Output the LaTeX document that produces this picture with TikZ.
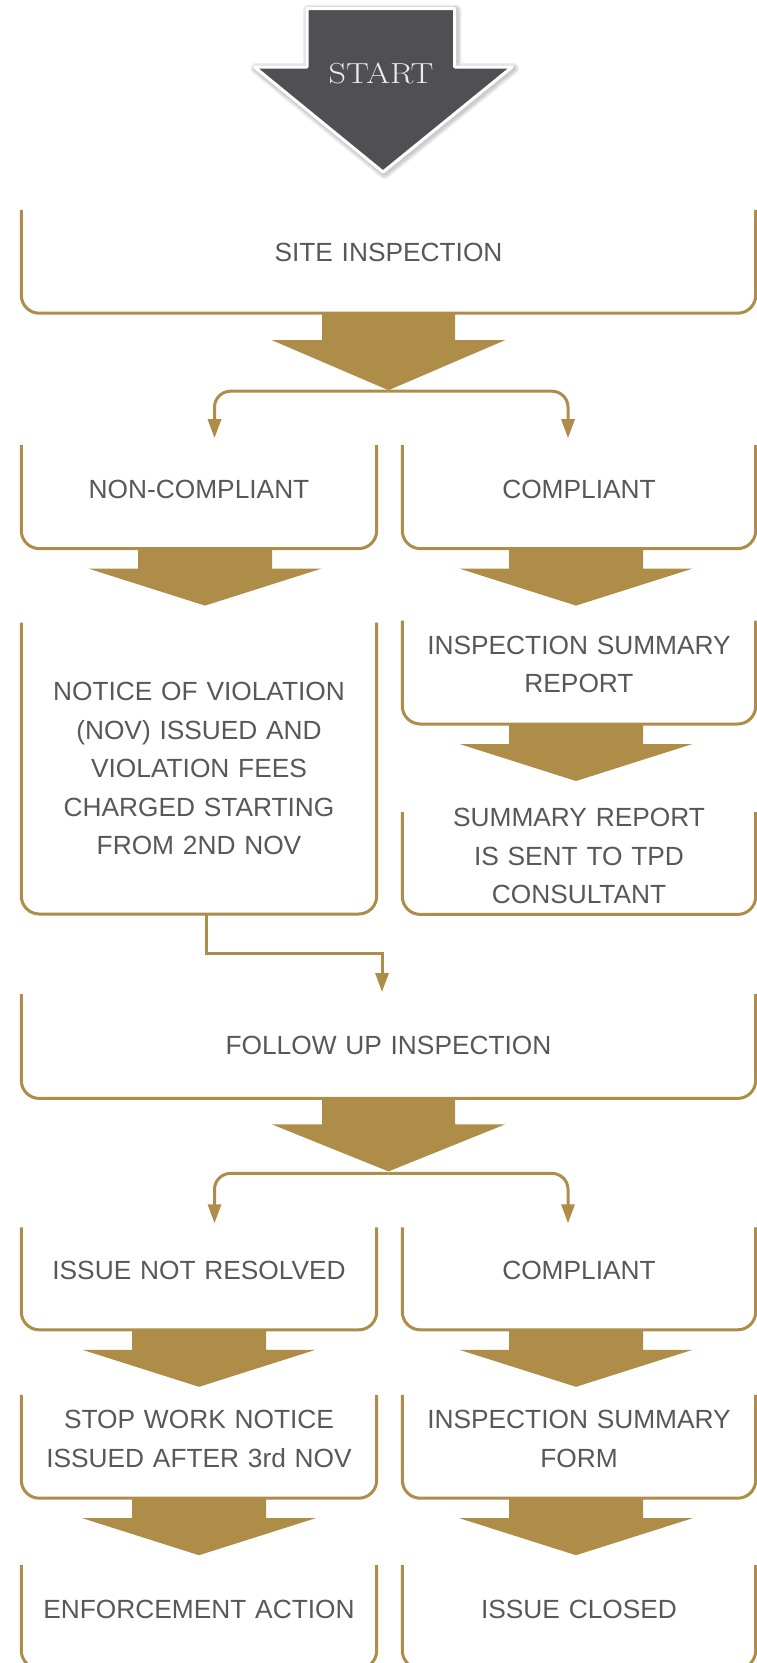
\documentclass[tikz,border=0pt]{standalone}
\usepackage{fontspec}
\setsansfont{Liberation Sans}
\usepackage{xcolor}
\usepackage{graphicx}
\usetikzlibrary{positioning, arrows.meta}

\definecolor{gold}{RGB}{173,141,72}
\definecolor{txtgray}{RGB}{88,88,88}
\definecolor{startgray}{RGB}{80,79,84}
\definecolor{startwhite}{RGB}{236,236,236}

\tikzset{
    flowbox/.style={inner sep=0pt, text width=#1, align=center, minimum height=103pt, text height=3pt,
        font=\sffamily\fontsize{26.3}{38.5}\selectfont, text=txtgray},
    flowbox/.default=355pt,
    boxframe/.style={draw=gold, line width=3pt, rounded corners=18pt},
    link/.style={draw=gold, line width=3pt, -{Triangle[length=19pt, width=13pt]}},
    softshadow/.style={draw=black, line join=round, opacity=0.07},
}

\begin{document}
\begin{tikzpicture}[x=1pt, y=-1pt, node distance=74pt]
    \path[use as bounding box, fill=white] (0,0) rectangle (757,1663);

    % 起点
    \foreach \w in {11, 8, 5}
        \draw[softshadow, line width=\w pt, shift={(1.5,1.5)}]
            (307,8.5) -- (454.5,8.5) -- (454.5,67) -- (512,67) -- (383,172) -- (254.5,67) -- (307,67) -- cycle;
    \fill[startgray, draw=white, line width=3pt, line join=round]
        (307,8.5) -- (454.5,8.5) -- (454.5,67) -- (512,67) -- (383,172) -- (254.5,67) -- (307,67) -- cycle;
    \node[font=\fontsize{29}{30}\selectfont, text=startwhite] (start) at (381,73) {\scalebox{1.18}[1]{START}};

    % 定义方框
    \node[flowbox=734pt, text height=0pt] (site) at (388.5,261.5) {SITE INSPECTION};
    \node[flowbox] (noncomp) [below right=132pt and 0pt of site.south west] {NON-COMPLIANT};
    \node[flowbox=353pt] (comp1) [below left=132pt and 0pt of site.south east] {COMPLIANT};
    \node[flowbox, minimum height=291pt, text height=19pt] (nov) [below=of noncomp]
        {NOTICE OF VIOLATION\\(NOV) ISSUED AND\\VIOLATION FEES\\CHARGED STARTING\\FROM 2ND NOV};
    \node[flowbox=353pt] (isr) [below=72pt of comp1] {INSPECTION SUMMARY\\REPORT};
    \node[flowbox=353pt, minimum height=102pt, text height=4pt] (sent) [below=88pt of isr]
        {SUMMARY REPORT\\IS SENT TO TPD\\CONSULTANT};
    \node[flowbox=734pt, minimum height=104pt, text height=16pt] (follow) [below right=80pt and 0pt of nov.south west] {FOLLOW UP INSPECTION};
    \node[flowbox, minimum height=102pt] (notres) [below right=129pt and 0pt of follow.south west] {ISSUE NOT RESOLVED};
    \node[flowbox=353pt, minimum height=102pt] (comp2) [below left=129pt and 0pt of follow.south east] {COMPLIANT};
    \node[flowbox] (stop) [below=65pt of notres] {STOP WORK NOTICE\\ISSUED AFTER 3rd NOV};
    \node[flowbox=353pt] (isf) [below=65pt of comp2] {INSPECTION SUMMARY\\FORM};
    \node[flowbox] (enf) [below=67pt of stop] {ENFORCEMENT ACTION};
    \node[flowbox=353pt] (closed) [below=67pt of isf] {ISSUE CLOSED};

    \foreach \b in {site, noncomp, comp1, nov, isr, sent, follow, notres, comp2, stop, isf, enf, closed}
        \draw[boxframe] (\b.north west) -- (\b.south west) -- (\b.south east) -- (\b.north east);

    % 定义箭头
    \foreach \b/\s/\h in {site/27/50, follow/26/47}
        \fill[gold] (\b.south) ++(-66.5,0) -- ++(0,\s) -- ++(-50,0) -- ++(116.5,\h) -- ++(116.5,-\h) -- ++(-50,0) -- ++(0,-\s) -- cycle;
    \foreach \b/\dx in {noncomp/6, comp1/-3, isr/-3, notres/0, comp2/-3, stop/0, isf/-3}
        \fill[gold] ([xshift=\dx]\b.south) ++(-67,0) -- ++(0,20) -- ++(-49.5,0) -- ++(116.5,37) -- ++(116.5,-37) -- ++(-49.5,0) -- ++(0,-20) -- cycle;

    % 定义连线
    \coordinate[below=78pt of site.south] (split1);
    \coordinate[below=75pt of follow.south] (split2);
    \draw[link, rounded corners=16pt] (split1) -| ([xshift=15.5pt, yshift=7pt]noncomp.north);
    \draw[link, rounded corners=16pt] (split1) -| ([xshift=-11pt, yshift=7pt]comp1.north);
    \draw[link] ([xshift=7.5pt]nov.south) -- ++(0,39) -| ([xshift=-6.5pt, yshift=2pt]follow.north);
    \draw[link, rounded corners=16pt] (split2) -| ([xshift=15.5pt, yshift=4pt]notres.north);
    \draw[link, rounded corners=16pt] (split2) -| ([xshift=-11pt, yshift=4pt]comp2.north);
\end{tikzpicture}
\end{document}
